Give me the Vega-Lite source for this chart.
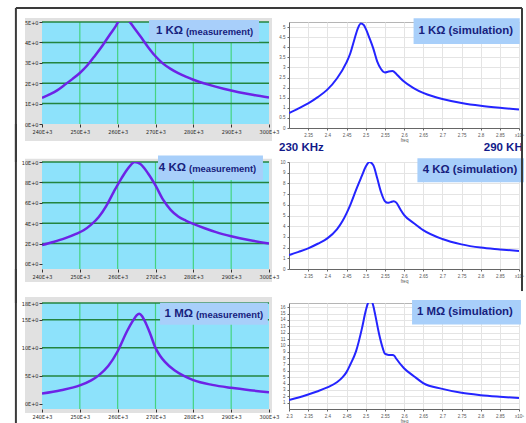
{
"$schema": "https://vega.github.io/schema/vega-lite/v6.json",
"autosize": {"type": "pad"},
"padding": {"left": 14, "top": 6, "right": 0, "bottom": 0},
"background": "white",
"columns": 2,
"spacing": {"row": 34, "column": 20},
"bounds": "flush",
"align": "each",
"config": {"text": {"font": "Liberation Sans, Arial, sans-serif", "fontWeight": "bold"}},
"datasets": {
"m1": [{"f":240000,"v":1.28},{"f":242000,"v":1.45},{"f":244000,"v":1.65},{"f":246000,"v":1.92},{"f":248000,"v":2.2},{"f":250000,"v":2.5},{"f":252000,"v":2.88},{"f":254000,"v":3.35},{"f":256000,"v":3.85},{"f":258000,"v":4.4},{"f":259500,"v":4.8},{"f":260500,"v":5.1},{"f":262000,"v":5.2},{"f":263000,"v":5.05},{"f":264000,"v":4.8},{"f":266000,"v":4.3},{"f":268000,"v":3.78},{"f":270000,"v":3.32},{"f":272000,"v":2.96},{"f":274000,"v":2.7},{"f":276000,"v":2.49},{"f":278000,"v":2.32},{"f":280000,"v":2.17},{"f":284000,"v":1.93},{"f":288000,"v":1.73},{"f":292000,"v":1.56},{"f":296000,"v":1.42},{"f":300000,"v":1.3}],
"m2": [{"f":240000,"v":1.85},{"f":243000,"v":2.15},{"f":246000,"v":2.5},{"f":249000,"v":2.95},{"f":251000,"v":3.3},{"f":253000,"v":3.85},{"f":255000,"v":4.6},{"f":257000,"v":5.7},{"f":259000,"v":7.1},{"f":261000,"v":8.4},{"f":263000,"v":9.5},{"f":264500,"v":10.0},{"f":266000,"v":9.8},{"f":268000,"v":8.9},{"f":270000,"v":7.7},{"f":272000,"v":6.3},{"f":274000,"v":5.3},{"f":276000,"v":4.65},{"f":278000,"v":4.25},{"f":280000,"v":3.93},{"f":283000,"v":3.5},{"f":286000,"v":3.12},{"f":290000,"v":2.72},{"f":295000,"v":2.32},{"f":300000,"v":2.0}],
"m3": [{"f":240000,"v":1.85},{"f":245000,"v":2.45},{"f":250000,"v":3.3},{"f":253000,"v":4.2},{"f":255000,"v":5.1},{"f":257500,"v":6.75},{"f":260000,"v":9.4},{"f":262500,"v":13.0},{"f":264000,"v":14.8},{"f":265000,"v":15.8},{"f":265700,"v":16.1},{"f":266500,"v":15.6},{"f":267500,"v":14.3},{"f":268500,"v":12.7},{"f":270000,"v":10.0},{"f":271200,"v":8.6},{"f":272500,"v":7.5},{"f":275000,"v":6.0},{"f":277500,"v":5.0},{"f":280000,"v":4.25},{"f":285000,"v":3.4},{"f":290000,"v":2.87},{"f":295000,"v":2.45},{"f":300000,"v":2.1}],
"s1": [{"f":2.3,"v":0.74},{"f":2.325,"v":0.97},{"f":2.35,"v":1.22},{"f":2.375,"v":1.53},{"f":2.4,"v":1.9},{"f":2.425,"v":2.45},{"f":2.45,"v":3.25},{"f":2.46,"v":3.7},{"f":2.47,"v":4.35},{"f":2.48,"v":4.95},{"f":2.4875,"v":5.17},{"f":2.495,"v":5.1},{"f":2.5,"v":4.92},{"f":2.51,"v":4.45},{"f":2.52,"v":3.93},{"f":2.53,"v":3.3},{"f":2.54,"v":2.92},{"f":2.55,"v":2.75},{"f":2.56,"v":2.8},{"f":2.57,"v":2.82},{"f":2.58,"v":2.68},{"f":2.59,"v":2.48},{"f":2.6,"v":2.3},{"f":2.625,"v":1.98},{"f":2.65,"v":1.74},{"f":2.675,"v":1.57},{"f":2.7,"v":1.44},{"f":2.75,"v":1.24},{"f":2.8,"v":1.1},{"f":2.85,"v":1.0},{"f":2.9,"v":0.92}],
"s2": [{"f":2.3,"v":1.3},{"f":2.325,"v":1.6},{"f":2.35,"v":1.93},{"f":2.375,"v":2.36},{"f":2.4,"v":2.86},{"f":2.425,"v":3.7},{"f":2.44,"v":4.5},{"f":2.45,"v":5.2},{"f":2.46,"v":6.0},{"f":2.475,"v":7.4},{"f":2.49,"v":8.7},{"f":2.5,"v":9.55},{"f":2.51,"v":10.0},{"f":2.52,"v":9.7},{"f":2.53,"v":8.5},{"f":2.54,"v":7.2},{"f":2.55,"v":6.35},{"f":2.558,"v":6.18},{"f":2.565,"v":6.25},{"f":2.573,"v":6.34},{"f":2.58,"v":6.2},{"f":2.59,"v":5.6},{"f":2.6,"v":5.05},{"f":2.625,"v":4.3},{"f":2.65,"v":3.63},{"f":2.7,"v":2.8},{"f":2.75,"v":2.3},{"f":2.8,"v":2.0},{"f":2.85,"v":1.83},{"f":2.9,"v":1.68}],
"s3": [{"f":2.3,"v":1.41},{"f":2.325,"v":1.82},{"f":2.35,"v":2.29},{"f":2.375,"v":2.8},{"f":2.4,"v":3.4},{"f":2.425,"v":4.2},{"f":2.44,"v":5.0},{"f":2.45,"v":5.8},{"f":2.46,"v":7.0},{"f":2.475,"v":9.1},{"f":2.49,"v":12.6},{"f":2.5,"v":15.4},{"f":2.505,"v":16.5},{"f":2.512,"v":17.3},{"f":2.52,"v":16.2},{"f":2.525,"v":14.8},{"f":2.535,"v":11.8},{"f":2.545,"v":9.5},{"f":2.55,"v":8.7},{"f":2.56,"v":8.5},{"f":2.57,"v":8.5},{"f":2.575,"v":8.35},{"f":2.58,"v":7.9},{"f":2.6,"v":6.4},{"f":2.625,"v":5.2},{"f":2.65,"v":4.08},{"f":2.7,"v":3.16},{"f":2.75,"v":2.54},{"f":2.8,"v":2.18},{"f":2.85,"v":1.93},{"f":2.9,"v":1.72}]
},
"concat": [
{
"width": 227, "height": 102, "view": {"stroke": null},
"resolve": {"axis": {"x": "independent", "y": "independent"}},
"layer": [
{"data": {"values": [{}]}, "mark": {"type": "rect", "fill": "#e1e1e1"}, "encoding": {"x": {"datum": 235500, "type": "quantitative", "axis": null}, "x2": {"datum": 300800}, "y": {"datum": 5.196, "type": "quantitative", "axis": null}, "y2": {"datum": -0.833}}},
{"data": {"values": [{}]}, "mark": {"type": "rect", "fill": "#8de2fb"}, "encoding": {"x": {"datum": 240000, "type": "quantitative", "axis": null}, "x2": {"datum": 300000}, "y": {"datum": 5, "type": "quantitative", "axis": null}, "y2": {"datum": 0}}},
{"data": {"values": [{"g":250000},{"g":260000},{"g":270000},{"g":280000},{"g":290000}]}, "mark": {"type": "rule", "stroke": "#45d37f", "strokeWidth": 1.2}, "encoding": {"x": {"field": "g", "type": "quantitative", "axis": null}}},
{"data": {"values": [{"g":1},{"g":2},{"g":3},{"g":4},{"g":5}]}, "mark": {"type": "rule", "stroke": "#23843f", "strokeWidth": 1.5}, "encoding": {"y": {"field": "g", "type": "quantitative", "axis": null}}},
{"data": {"name": "m1"}, "mark": {"type": "line", "stroke": "#6d23e6", "strokeWidth": 2.5, "interpolate": "monotone", "clip": true},
 "encoding": {
  "x": {"field": "f", "type": "quantitative", "scale": {"domain": [240000, 300000], "nice": false, "zero": false},
   "axis": {"values": [240000,250000,260000,270000,280000,290000,300000], "labelExpr": "datum.value/1000 + 'E+3'", "grid": false, "domain": false, "ticks": true, "tickSize": 3, "tickColor": "#333", "labelFont": "Liberation Sans Narrow, DejaVu Sans Condensed, sans-serif", "labelFontSize": 5.5, "labelColor": "#222", "labelPadding": 2, "title": null, "zindex": 1, "labelFlush": false, "labelOverlap": false}},
  "y": {"field": "v", "type": "quantitative", "scale": {"domain": [0, 5], "nice": false, "zero": false},
   "axis": {"values": [0,1,2,3,4,5], "labelExpr": "datum.value + 'E+0'", "grid": false, "domain": false, "ticks": true, "tickSize": 3, "tickColor": "#333", "labelFont": "Liberation Sans Narrow, DejaVu Sans Condensed, sans-serif", "labelFontSize": 5.5, "labelColor": "#222", "labelPadding": 1, "title": null, "zindex": 1, "labelFlush": false, "labelOverlap": false}}
 }},
{"data": {"values": [{}]}, "mark": {"type": "rect", "fill": "#a8cffa"}, "encoding": {"x": {"datum": 268280, "type": "quantitative", "axis": null}, "x2": {"datum": 297360}, "y": {"datum": 5.10, "type": "quantitative", "axis": null}, "y2": {"datum": 4.02}}},
{"data": {"values": [{"big": "1 KΩ", "small": "(measurement)"}]}, "mark": {"type": "text", "align": "right", "baseline": "middle", "fontSize": 11.5, "fill": "#17217d"}, "encoding": {"x": {"datum": 277270, "type": "quantitative", "axis": null}, "y": {"datum": 4.56, "type": "quantitative", "axis": null}, "text": {"field": "big"}}},
{"data": {"values": [{"big": "1 KΩ", "small": "(measurement)"}]}, "mark": {"type": "text", "align": "left", "baseline": "middle", "fontSize": 9.4, "dy": 1, "fill": "#17217d"}, "encoding": {"x": {"datum": 278060, "type": "quantitative", "axis": null}, "y": {"datum": 4.56, "type": "quantitative", "axis": null}, "text": {"field": "small"}}},
{"data": {"values": [{}]}, "mark": {"type": "rule", "stroke": "#3a3a3a", "strokeWidth": 2}, "encoding": {"x": {"datum": 233100, "type": "quantitative", "axis": null}, "y": {"datum": 5.686, "type": "quantitative", "axis": null}, "y2": {"datum": -1.86}}},
{"data": {"values": [{}]}, "mark": {"type": "rule", "stroke": "#3a3a3a", "strokeWidth": 2}, "encoding": {"x": {"datum": 233100, "type": "quantitative", "axis": null}, "x2": {"datum": 306000}, "y": {"datum": 5.686, "type": "quantitative", "axis": null}}}
]
},
{
"width": 230, "height": 106, "view": {"stroke": "#b5b5b5"},
"resolve": {"axis": {"x": "independent", "y": "independent"}},
"layer": [
{"data": {"name": "s1"}, "mark": {"type": "line", "stroke": "#2424ff", "strokeWidth": 2, "interpolate": "monotone", "clip": true},
 "encoding": {
  "x": {"field": "f", "type": "quantitative", "scale": {"domain": [2.3, 2.9], "nice": false, "zero": false},
   "axis": {"values": [2.35,2.4,2.45,2.5,2.55,2.6,2.65,2.7,2.75,2.8,2.85,2.9], "format": "~r", "labelExpr": "datum.value > 2.89 ? 'x10⁵' : datum.label", "grid": true, "gridColor": "#e4e4e4", "domainColor": "#666", "tickColor": "#666", "tickSize": 2, "labelFont": "Liberation Sans", "labelFontSize": 4.5, "labelColor": "#555", "labelPadding": 2, "title": "freq", "titleFont": "Liberation Sans", "titleFontSize": 4.5, "titleFontWeight": "normal", "titleColor": "#555", "titlePadding": 1, "labelFlush": false, "labelOverlap": false}},
  "y": {"field": "v", "type": "quantitative", "scale": {"domain": [0, 5.25], "nice": false, "zero": false},
   "axis": {"values": [0,0.5,1,1.5,2,2.5,3,3.5,4,4.5,5], "format": "~r", "grid": true, "gridColor": "#e4e4e4", "domainColor": "#666", "tickColor": "#666", "tickSize": 2, "labelFont": "Liberation Sans", "labelFontSize": 4.5, "labelColor": "#555", "labelPadding": 2, "title": null, "labelFlush": false, "labelOverlap": false}}
 }},
{"data": {"values": [{}]}, "mark": {"type": "rect", "fill": "#a8cffa"}, "encoding": {"x": {"datum": 2.625, "type": "quantitative", "axis": null}, "x2": {"datum": 2.902}, "y": {"datum": 5.44, "type": "quantitative", "axis": null}, "y2": {"datum": 4.16}}},
{"data": {"values": [{"t": "1 KΩ (simulation)"}]}, "mark": {"type": "text", "align": "center", "baseline": "middle", "fontSize": 11.4, "fill": "#17217d"}, "encoding": {"x": {"datum": 2.761, "type": "quantitative", "axis": null}, "y": {"datum": 4.8, "type": "quantitative", "axis": null}, "text": {"field": "t"}}},
{"data": {"values": [{"t": "230 KHz"}]}, "mark": {"type": "text", "align": "left", "baseline": "middle", "fontSize": 11.5, "fill": "#121a8a"}, "encoding": {"x": {"datum": 2.274, "type": "quantitative", "axis": null}, "y": {"datum": -1.0, "type": "quantitative", "axis": null}, "text": {"field": "t"}}},
{"data": {"values": [{"t": "290 KHz"}]}, "mark": {"type": "text", "align": "left", "baseline": "middle", "fontSize": 11.5, "fill": "#121a8a", "limit": 40, "ellipsis": "\u200b"}, "encoding": {"x": {"datum": 2.808, "type": "quantitative", "axis": null}, "y": {"datum": -1.0, "type": "quantitative", "axis": null}, "text": {"field": "t"}}},
{"data": {"values": [{}]}, "mark": {"type": "rule", "stroke": "#3a3a3a", "strokeWidth": 2}, "encoding": {"x": {"datum": 2.2478, "type": "quantitative", "axis": null}, "x2": {"datum": 2.9078}, "y": {"datum": 5.94, "type": "quantitative", "axis": null}}},
{"data": {"values": [{}]}, "mark": {"type": "rule", "stroke": "#3a3a3a", "strokeWidth": 2}, "encoding": {"x": {"datum": 2.9078, "type": "quantitative", "axis": null}, "y": {"datum": 5.94, "type": "quantitative", "axis": null}, "y2": {"datum": -1.684}}}
]
},
{
"width": 227, "height": 107, "view": {"stroke": null},
"resolve": {"axis": {"x": "independent", "y": "independent"}},
"layer": [
{"data": {"values": [{}]}, "mark": {"type": "rect", "fill": "#e1e1e1"}, "encoding": {"x": {"datum": 235500, "type": "quantitative", "axis": null}, "x2": {"datum": 300800}, "y": {"datum": 10.32, "type": "quantitative", "axis": null}, "y2": {"datum": -1.776}}},
{"data": {"values": [{}]}, "mark": {"type": "rect", "fill": "#8de2fb"}, "encoding": {"x": {"datum": 240000, "type": "quantitative", "axis": null}, "x2": {"datum": 300000}, "y": {"datum": 10, "type": "quantitative", "axis": null}, "y2": {"datum": -0.5}}},
{"data": {"values": [{"g":250000},{"g":260000},{"g":270000},{"g":280000},{"g":290000}]}, "mark": {"type": "rule", "stroke": "#45d37f", "strokeWidth": 1.2}, "encoding": {"x": {"field": "g", "type": "quantitative", "axis": null}}},
{"data": {"values": [{"g":2},{"g":4},{"g":6},{"g":8},{"g":10}]}, "mark": {"type": "rule", "stroke": "#23843f", "strokeWidth": 1.5}, "encoding": {"y": {"field": "g", "type": "quantitative", "axis": null}}},
{"data": {"name": "m2"}, "mark": {"type": "line", "stroke": "#6d23e6", "strokeWidth": 2.5, "interpolate": "monotone", "clip": true},
 "encoding": {
  "x": {"field": "f", "type": "quantitative", "scale": {"domain": [240000, 300000], "nice": false, "zero": false},
   "axis": {"values": [240000,250000,260000,270000,280000,290000,300000], "labelExpr": "datum.value/1000 + 'E+3'", "grid": false, "domain": false, "ticks": true, "tickSize": 3, "tickColor": "#333", "labelFont": "Liberation Sans Narrow, DejaVu Sans Condensed, sans-serif", "labelFontSize": 5.5, "labelColor": "#222", "labelPadding": 2, "title": null, "zindex": 1, "labelFlush": false, "labelOverlap": false}},
  "y": {"field": "v", "type": "quantitative", "scale": {"domain": [-0.5, 10], "nice": false, "zero": false},
   "axis": {"values": [0,2,4,6,8,10], "labelExpr": "datum.value + 'E+0'", "grid": false, "domain": false, "ticks": true, "tickSize": 3, "tickColor": "#333", "labelFont": "Liberation Sans Narrow, DejaVu Sans Condensed, sans-serif", "labelFontSize": 5.5, "labelColor": "#222", "labelPadding": 1, "title": null, "zindex": 1, "labelFlush": false, "labelOverlap": false}}
 }},
{"data": {"values": [{}]}, "mark": {"type": "rect", "fill": "#a8cffa"}, "encoding": {"x": {"datum": 270660, "type": "quantitative", "axis": null}, "x2": {"datum": 298400}, "y": {"datum": 10.63, "type": "quantitative", "axis": null}, "y2": {"datum": 8.23}}},
{"data": {"values": [{"big": "4 KΩ", "small": "(measurement)"}]}, "mark": {"type": "text", "align": "right", "baseline": "middle", "fontSize": 11.5, "fill": "#17217d"}, "encoding": {"x": {"datum": 278060, "type": "quantitative", "axis": null}, "y": {"datum": 9.43, "type": "quantitative", "axis": null}, "text": {"field": "big"}}},
{"data": {"values": [{"big": "4 KΩ", "small": "(measurement)"}]}, "mark": {"type": "text", "align": "left", "baseline": "middle", "fontSize": 9.4, "dy": 1, "fill": "#17217d"}, "encoding": {"x": {"datum": 278860, "type": "quantitative", "axis": null}, "y": {"datum": 9.43, "type": "quantitative", "axis": null}, "text": {"field": "small"}}},
{"data": {"values": [{}]}, "mark": {"type": "rule", "stroke": "#3a3a3a", "strokeWidth": 2}, "encoding": {"x": {"datum": 233100, "type": "quantitative", "axis": null}, "y": {"datum": 13.73, "type": "quantitative", "axis": null}, "y2": {"datum": -3.84}}}
]
},
{
"width": 230, "height": 107, "view": {"stroke": "#b5b5b5"},
"resolve": {"axis": {"x": "independent", "y": "independent"}},
"layer": [
{"data": {"name": "s2"}, "mark": {"type": "line", "stroke": "#2424ff", "strokeWidth": 2, "interpolate": "monotone", "clip": true},
 "encoding": {
  "x": {"field": "f", "type": "quantitative", "scale": {"domain": [2.3, 2.9], "nice": false, "zero": false},
   "axis": {"values": [2.35,2.4,2.45,2.5,2.55,2.6,2.65,2.7,2.75,2.8,2.85,2.9], "format": "~r", "labelExpr": "datum.value > 2.89 ? 'x10⁵' : datum.label", "grid": true, "gridColor": "#e4e4e4", "domainColor": "#666", "tickColor": "#666", "tickSize": 2, "labelFont": "Liberation Sans", "labelFontSize": 4.5, "labelColor": "#555", "labelPadding": 2, "title": "freq", "titleFont": "Liberation Sans", "titleFontSize": 4.5, "titleFontWeight": "normal", "titleColor": "#555", "titlePadding": 1, "labelFlush": false, "labelOverlap": false}},
  "y": {"field": "v", "type": "quantitative", "scale": {"domain": [0, 10], "nice": false, "zero": false},
   "axis": {"values": [0,1,2,3,4,5,6,7,8,9,10], "format": "~r", "grid": true, "gridColor": "#e4e4e4", "domainColor": "#666", "tickColor": "#666", "tickSize": 2, "labelFont": "Liberation Sans", "labelFontSize": 4.5, "labelColor": "#555", "labelPadding": 2, "title": null, "labelFlush": false, "labelOverlap": false}}
 }},
{"data": {"values": [{}]}, "mark": {"type": "rect", "fill": "#a8cffa"}, "encoding": {"x": {"datum": 2.635, "type": "quantitative", "axis": null}, "x2": {"datum": 2.913}, "y": {"datum": 10.35, "type": "quantitative", "axis": null}, "y2": {"datum": 8.1}}},
{"data": {"values": [{"t": "4 KΩ (simulation)"}]}, "mark": {"type": "text", "align": "center", "baseline": "middle", "fontSize": 11.4, "fill": "#17217d"}, "encoding": {"x": {"datum": 2.772, "type": "quantitative", "axis": null}, "y": {"datum": 9.23, "type": "quantitative", "axis": null}, "text": {"field": "t"}}},
{"data": {"values": [{}]}, "mark": {"type": "rule", "stroke": "#3a3a3a", "strokeWidth": 2}, "encoding": {"x": {"datum": 2.9078, "type": "quantitative", "axis": null}, "y": {"datum": 13.18, "type": "quantitative", "axis": null}, "y2": {"datum": -2.06}}}
]
},
{
"width": 227, "height": 106, "view": {"stroke": null},
"resolve": {"axis": {"x": "independent", "y": "independent"}},
"layer": [
{"data": {"values": [{}]}, "mark": {"type": "rect", "fill": "#e1e1e1"}, "encoding": {"x": {"datum": 235500, "type": "quantitative", "axis": null}, "x2": {"datum": 300800}, "y": {"datum": 19.07, "type": "quantitative", "axis": null}, "y2": {"datum": -1.613}}},
{"data": {"values": [{}]}, "mark": {"type": "rect", "fill": "#8de2fb"}, "encoding": {"x": {"datum": 240000, "type": "quantitative", "axis": null}, "x2": {"datum": 300000}, "y": {"datum": 18, "type": "quantitative", "axis": null}, "y2": {"datum": -0.9}}},
{"data": {"values": [{"g":250000},{"g":260000},{"g":270000},{"g":280000},{"g":290000}]}, "mark": {"type": "rule", "stroke": "#45d37f", "strokeWidth": 1.2}, "encoding": {"x": {"field": "g", "type": "quantitative", "axis": null}}},
{"data": {"values": [{"g":5},{"g":10},{"g":15},{"g":18}]}, "mark": {"type": "rule", "stroke": "#23843f", "strokeWidth": 1.5}, "encoding": {"y": {"field": "g", "type": "quantitative", "axis": null}}},
{"data": {"name": "m3"}, "mark": {"type": "line", "stroke": "#6d23e6", "strokeWidth": 2.5, "interpolate": "monotone", "clip": true},
 "encoding": {
  "x": {"field": "f", "type": "quantitative", "scale": {"domain": [240000, 300000], "nice": false, "zero": false},
   "axis": {"values": [240000,250000,260000,270000,280000,290000,300000], "labelExpr": "datum.value/1000 + 'E+3'", "grid": false, "domain": false, "ticks": true, "tickSize": 3, "tickColor": "#333", "labelFont": "Liberation Sans Narrow, DejaVu Sans Condensed, sans-serif", "labelFontSize": 5.5, "labelColor": "#222", "labelPadding": 2, "title": null, "zindex": 1, "labelFlush": false, "labelOverlap": false}},
  "y": {"field": "v", "type": "quantitative", "scale": {"domain": [-0.9, 18], "nice": false, "zero": false},
   "axis": {"values": [0,5,10,15,18], "labelExpr": "datum.value + 'E+0'", "grid": false, "domain": false, "ticks": true, "tickSize": 3, "tickColor": "#333", "labelFont": "Liberation Sans Narrow, DejaVu Sans Condensed, sans-serif", "labelFontSize": 5.5, "labelColor": "#222", "labelPadding": 1, "title": null, "zindex": 1, "labelFlush": false, "labelOverlap": false}}
 }},
{"data": {"values": [{}]}, "mark": {"type": "rect", "fill": "#a8cffa"}, "encoding": {"x": {"datum": 271200, "type": "quantitative", "axis": null}, "x2": {"datum": 299700}, "y": {"datum": 18.05, "type": "quantitative", "axis": null}, "y2": {"datum": 14.1}}},
{"data": {"values": [{"big": "1 MΩ", "small": "(measurement)"}]}, "mark": {"type": "text", "align": "right", "baseline": "middle", "fontSize": 11.5, "fill": "#17217d"}, "encoding": {"x": {"datum": 279900, "type": "quantitative", "axis": null}, "y": {"datum": 16.1, "type": "quantitative", "axis": null}, "text": {"field": "big"}}},
{"data": {"values": [{"big": "1 MΩ", "small": "(measurement)"}]}, "mark": {"type": "text", "align": "left", "baseline": "middle", "fontSize": 9.4, "dy": 1, "fill": "#17217d"}, "encoding": {"x": {"datum": 280700, "type": "quantitative", "axis": null}, "y": {"datum": 16.1, "type": "quantitative", "axis": null}, "text": {"field": "small"}}},
{"data": {"values": [{}]}, "mark": {"type": "rule", "stroke": "#3a3a3a", "strokeWidth": 2}, "encoding": {"x": {"datum": 233100, "type": "quantitative", "axis": null}, "y": {"datum": 24.06, "type": "quantitative", "axis": null}, "y2": {"datum": -3.575}}}
]
},
{
"width": 230, "height": 106, "view": {"stroke": "#b5b5b5"},
"resolve": {"axis": {"x": "independent", "y": "independent"}},
"layer": [
{"data": {"name": "s3"}, "mark": {"type": "line", "stroke": "#2424ff", "strokeWidth": 2, "interpolate": "monotone", "clip": true},
 "encoding": {
  "x": {"field": "f", "type": "quantitative", "scale": {"domain": [2.3, 2.9], "nice": false, "zero": false},
   "axis": {"values": [2.3,2.35,2.4,2.45,2.5,2.55,2.6,2.65,2.7,2.75,2.8,2.85,2.9], "format": "~r", "labelExpr": "datum.value > 2.89 ? 'x10⁵' : datum.label", "grid": true, "gridColor": "#e4e4e4", "domainColor": "#666", "tickColor": "#666", "tickSize": 2, "labelFont": "Liberation Sans", "labelFontSize": 4.5, "labelColor": "#555", "labelPadding": 2, "title": "freq", "titleFont": "Liberation Sans", "titleFontSize": 4.5, "titleFontWeight": "normal", "titleColor": "#555", "titlePadding": 1, "labelFlush": false, "labelOverlap": false}},
  "y": {"field": "v", "type": "quantitative", "scale": {"domain": [0, 16.67], "nice": false, "zero": false},
   "axis": {"values": [1,2,3,4,5,6,7,8,9,10,11,12,13,14,15,16], "format": "~r", "grid": true, "gridColor": "#e4e4e4", "domainColor": "#666", "tickColor": "#666", "tickSize": 2, "labelFont": "Liberation Sans", "labelFontSize": 4.5, "labelColor": "#555", "labelPadding": 2, "title": null, "labelFlush": false, "labelOverlap": false}}
 }},
{"data": {"values": [{}]}, "mark": {"type": "rect", "fill": "#a8cffa"}, "encoding": {"x": {"datum": 2.621, "type": "quantitative", "axis": null}, "x2": {"datum": 2.905}, "y": {"datum": 17.13, "type": "quantitative", "axis": null}, "y2": {"datum": 13.28}}},
{"data": {"values": [{"t": "1 MΩ (simulation)"}]}, "mark": {"type": "text", "align": "center", "baseline": "middle", "fontSize": 11.4, "fill": "#17217d"}, "encoding": {"x": {"datum": 2.759, "type": "quantitative", "axis": null}, "y": {"datum": 15.2, "type": "quantitative", "axis": null}, "text": {"field": "t"}}}
]
}
]
}
